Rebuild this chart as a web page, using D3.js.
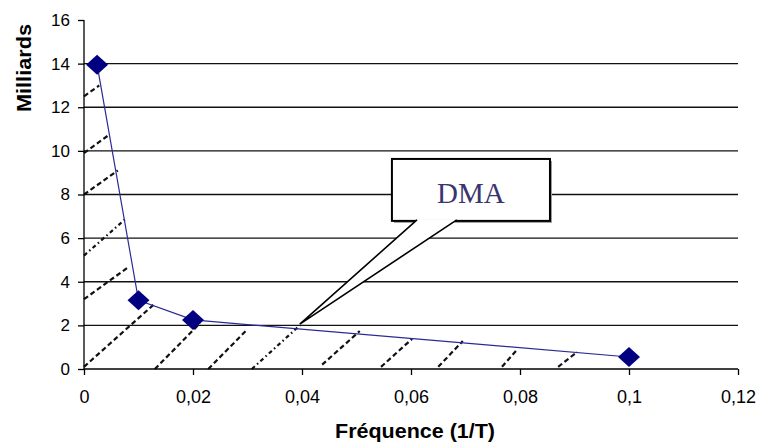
<!DOCTYPE html>
<html>
<head>
<meta charset="utf-8">
<title>DMA</title>
<script src="https://d3js.org/d3.v7.min.js"></script>
<style>
  body { margin: 0; background: #fff; }
  svg { display: block; }
  .tick text { font-family: "Liberation Sans", Arial, sans-serif; fill: #000; }
  .title { font-family: "Liberation Sans", Arial, sans-serif; font-weight: bold; fill: #000; }
</style>
</head>
<body>
<div id="chart"></div>
<script>
// series
var freq = [0.0024, 0.01, 0.02, 0.1];
var milliards = [13.95, 3.15, 2.25, 0.55];

var xTicks = [0, 0.02, 0.04, 0.06, 0.08, 0.1, 0.12];
var yTicks = [0, 2, 4, 6, 8, 10, 12, 14, 16];

// hand drawn hatching under the curve (data units), start -> end
var hatchStart = [[0, 12.5], [0, 9.9], [0, 8.0], [0, 5.2], [0, 3.2], [0, 0.1],
                  [0.013, 0], [0.0228, 0], [0.0308, 0], [0.0437, 0.2], [0.0545, 0.1],
                  [0.065, 0.1], [0.0767, 0.1], [0.087, 0.1]];
var hatchEnd = [[0.0028, 13.0], [0.0044, 10.7], [0.0062, 9.1], [0.0077, 6.9], [0.0083, 4.7], [0.013, 3.0],
                [0.0213, 2.1], [0.0299, 1.8], [0.0396, 2.0], [0.0506, 1.74], [0.0602, 1.38],
                [0.0695, 1.28], [0.0796, 0.92], [0.0905, 0.78]];
var hatchDashDot = [false, false, false, true, false, false, false, false, true, false, false, false, false, false];

// callout
var calloutText = "DMA";
var calloutBox = {x0: 0.0565, x1: 0.0855, y0: 6.79, y1: 9.63};
var calloutTail = {xa: 0.0611, xb: 0.0684, tipX: 0.0396, tipY: 2.06};

var W = 764, H = 446;
var margin = {top: 20, right: 26, bottom: 77, left: 84};

var svg = d3.select("#chart").append("svg")
    .attr("width", W)
    .attr("height", H);

var x = d3.scaleLinear().domain([0, 0.12]).range([margin.left, W - margin.right]);
var y = d3.scaleLinear().domain([0, 16]).range([H - margin.bottom, margin.top]);

var fr = d3.formatLocale({decimal: ",", thousands: " ", grouping: [3], currency: ["", "€"]});
var fmt = fr.format("~g");

// gridlines (none at the top)
svg.append("g").selectAll("line")
    .data(yTicks.filter(function(d) { return d > 0 && d < 16; }))
    .enter().append("line")
    .attr("x1", x(0)).attr("x2", x(0.12))
    .attr("y1", function(d) { return y(d); })
    .attr("y2", function(d) { return y(d); })
    .attr("stroke", "#111")
    .attr("stroke-width", 1.3);

// hatching
svg.append("g").selectAll("line")
    .data(hatchStart)
    .enter().append("line")
    .attr("x1", function(d) { return x(d[0]); })
    .attr("y1", function(d) { return y(d[1]); })
    .attr("x2", function(d, i) { return x(hatchEnd[i][0]); })
    .attr("y2", function(d, i) { return y(hatchEnd[i][1]); })
    .attr("stroke", "#111")
    .attr("stroke-width", 2.2)
    .attr("stroke-dasharray", function(d, i) { return hatchDashDot[i] ? "4,3,1.5,3" : "5,3"; });

// axes
var xAxis = d3.axisBottom(x).tickValues(xTicks).tickFormat(fmt).tickSize(6).tickPadding(15);
var yAxis = d3.axisLeft(y).tickValues(yTicks).tickFormat(fmt).tickSize(6).tickPadding(8);

var gx = svg.append("g")
    .attr("transform", "translate(0," + y(0) + ")")
    .call(xAxis);
gx.select(".domain").remove();
gx.append("line").attr("x1", x(0)).attr("x2", x(0.12)).attr("stroke", "#000").attr("stroke-width", 1.3);
gx.selectAll(".tick line").attr("stroke", "#000").attr("stroke-width", 1.3);
gx.selectAll(".tick text").style("font-size", "18px");

var gy = svg.append("g")
    .attr("transform", "translate(" + x(0) + ",0)")
    .call(yAxis);
gy.select(".domain").remove();
gy.append("line").attr("y1", y(0)).attr("y2", y(16)).attr("stroke", "#000").attr("stroke-width", 1.3);
gy.selectAll(".tick line").attr("stroke", "#000").attr("stroke-width", 1.3);
gy.selectAll(".tick text").style("font-size", "17px");

// series line
var pts = freq.map(function(f, i) { return [f, milliards[i]]; });
var line = d3.line()
    .x(function(d) { return x(d[0]); })
    .y(function(d) { return y(d[1]); });

svg.append("path")
    .datum(pts)
    .attr("d", line)
    .attr("fill", "none")
    .attr("stroke", "#2a2a96")
    .attr("stroke-width", 1.2);

svg.append("g").selectAll("path")
    .data(pts)
    .enter().append("path")
    .attr("d", "M0,-10L11,0L0,10L-11,0Z")
    .attr("transform", function(d) { return "translate(" + x(d[0]) + "," + y(d[1]) + ")"; })
    .attr("fill", "#000080");

// callout box with tail
var bx0 = x(calloutBox.x0), bx1 = x(calloutBox.x1),
    by0 = y(calloutBox.y1), by1 = y(calloutBox.y0);

var callout = svg.append("g");
callout.append("rect")
    .attr("x", bx0 + 2).attr("y", by0 + 2)
    .attr("width", bx1 - bx0).attr("height", by1 - by0)
    .attr("fill", "#999");
callout.append("rect")
    .attr("x", bx0).attr("y", by0)
    .attr("width", bx1 - bx0).attr("height", by1 - by0)
    .attr("fill", "#fff")
    .attr("stroke", "#000")
    .attr("stroke-width", 2);
// white wedge that opens the bottom edge, then the two outline strokes
var tailD = "M" + x(calloutTail.xa) + "," + (by1 - 1.5) +
            "L" + x(calloutTail.tipX) + "," + y(calloutTail.tipY) +
            "L" + x(calloutTail.xb) + "," + (by1 - 1.5) + "Z";
callout.append("path")
    .attr("d", "M" + (x(calloutTail.xa) + 1) + "," + (by1 - 1.5) +
               "L" + (x(calloutTail.xb) - 1) + "," + (by1 - 1.5) +
               "L" + (x(calloutTail.xb) - 3) + "," + (by1 + 3.5) +
               "L" + (x(calloutTail.xa) - 1) + "," + (by1 + 3.5) + "Z")
    .attr("fill", "#fff");
callout.append("path")
    .attr("d", tailD)
    .attr("fill", "#fff")
    .attr("stroke", "none");
callout.append("path")
    .attr("d", "M" + x(calloutTail.xa) + "," + (by1 - 1) +
               "L" + x(calloutTail.tipX) + "," + y(calloutTail.tipY) +
               "L" + x(calloutTail.xb) + "," + (by1 - 1))
    .attr("fill", "none")
    .attr("stroke", "#000")
    .attr("stroke-width", 1.6);
callout.append("text")
    .attr("x", (bx0 + bx1) / 2)
    .attr("y", by0 + 44)
    .attr("text-anchor", "middle")
    .style("font-family", "'Liberation Serif', 'Times New Roman', serif")
    .style("font-size", "29px")
    .style("fill", "#3a3470")
    .text(calloutText);

// axis titles
svg.append("text")
    .attr("class", "title")
    .attr("x", 415)
    .attr("y", 438)
    .attr("text-anchor", "middle")
    .attr("textLength", 160)
    .attr("lengthAdjust", "spacingAndGlyphs")
    .style("font-size", "21px")
    .text("Fréquence (1/T)");

svg.append("text")
    .attr("class", "title")
    .attr("transform", "translate(31,68) rotate(-90)")
    .attr("text-anchor", "middle")
    .attr("textLength", 88)
    .attr("lengthAdjust", "spacingAndGlyphs")
    .style("font-size", "21px")
    .text("Milliards");
</script>
</body>
</html>
